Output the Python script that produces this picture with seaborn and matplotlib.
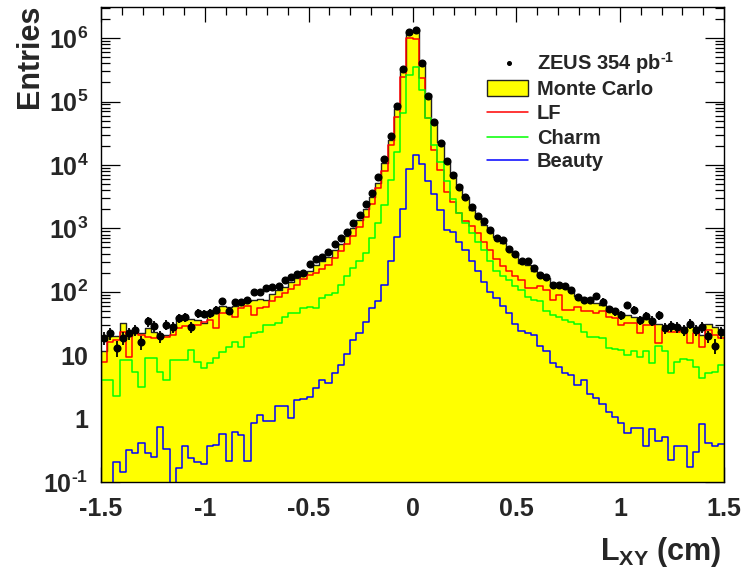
import numpy as np
import pandas as pd
import matplotlib
matplotlib.use("Agg")
import matplotlib.pyplot as plt
from matplotlib.lines import Line2D
from matplotlib.patches import Rectangle
from matplotlib.ticker import MultipleLocator, LogLocator, NullFormatter
import seaborn as sns

# 100 bins of 0.03 cm between -1.5 and 1.5 cm
bin_edges = [round(-1.5 + 0.03 * i, 2) for i in range(101)]

data_counts = [
    19, 22, 13, 19, 22, 25, 16, 34, 29, 20,
    30, 28, 38, 40, 28, 46, 45, 46, 52, 72,
    50, 68, 68, 74, 98, 98, 115, 120, 123, 151,
    174, 191, 200, 275, 324, 355, 417, 562, 708, 891,
    1202, 1622, 2399, 3673, 6457, 12590, 28840, 85110, 323600, 1230000,
    1349000, 407400, 120200, 46770, 21880, 11480, 6918, 4571, 3162, 2138,
    1549, 1288, 933, 708, 646, 468, 398, 309, 302, 234,
    186, 170, 126, 126, 124, 107, 84, 73, 75, 86,
    70, 53, 49, 43, 62, 52, 36, 42, 35, 43,
    27, 29, 28, 25, 31, 25, 28, 20, 14, 23,
]

mc_total = [
    11.5, 20.0, 20.0, 32.4, 20.0, 23.4, 22.4, 26.9, 23.4, 20.9,
    20.9, 30.2, 39.8, 39.8, 37.2, 36.3, 32.4, 43.7, 45.7, 58.9,
    57.5, 60.3, 67.6, 70.8, 74.1, 75.9, 74.1, 93.3, 107, 117,
    145, 162, 191, 214, 263, 302, 355, 457, 575, 759,
    1000, 1380, 1995, 3090, 5248, 10720, 25120, 75860, 302000, 1259000,
    1349000, 380200, 131800, 47860, 23440, 11220, 7413, 4898, 3162, 1950,
    1445, 1148, 891, 724, 589, 457, 380, 282, 263, 209,
    186, 162, 138, 129, 120, 105, 87.1, 79.4, 75.9, 66.1,
    61.7, 57.5, 51.3, 45.7, 43.7, 40.7, 37.2, 38.0, 33.9, 30.9,
    28.8, 30.9, 28.8, 28.2, 30.9, 28.2, 20.9, 30.9, 27.5, 25.1,
]

lf = [
    7.9, 16.4, 17.4, 23.4, 9.5, 22.4, 20.9, 19.5, 18.6, 19.5,
    19.5, 20.9, 26.9, 28.8, 28.8, 30.2, 33.1, 35.5, 26.9, 45.7,
    45.7, 40.7, 55.0, 60.3, 43.7, 55.0, 57.5, 72.4, 84.1, 95.5,
    110, 129, 158, 182, 200, 229, 269, 347, 437, 575,
    759, 1047, 1514, 2455, 4266, 8072, 20420, 56230, 239900, 1000000,
    977200, 234400, 54950, 17380, 8318, 3802, 2630, 1738, 1318, 1096,
    832, 603, 457, 324, 251, 214, 178, 155, 115, 115,
    123, 107, 74.1, 89.1, 51.9, 51.9, 58.5, 50.6, 50.6, 45.9,
    50.6, 40.7, 38.3, 30.1, 31.9, 31.9, 22.2, 30.1, 30.1, 15.5,
    25.1, 23.6, 23.6, 25.1, 15.8, 22.2, 13.7, 25.1, 20.9, 18.5,
]

charm = [
    4.1, 4.1, 2.24, 8.4, 8.4, 5.5, 3.2, 9.0, 9.0, 5.5,
    4.1, 8.4, 8.4, 8.4, 12.1, 7.9, 6.2, 7.5, 9.0, 11.4,
    13.7, 16.4, 13.7, 19.7, 22.2, 23.6, 30.1, 30.1, 31.9, 40.6,
    45.9, 45.9, 55.1, 58.5, 55.0, 79.4, 89.1, 95.5, 129, 178,
    234, 302, 407, 708, 1202, 2344, 5754, 16220, 66070, 263000,
    354800, 151400, 54950, 20890, 11220, 5495, 2884, 1778, 1230, 832,
    617, 457, 302, 209, 178, 155, 123, 107, 83.2, 74.1,
    70.8, 49.0, 43.7, 40.7, 36.3, 33.9, 30.9, 23.4, 19.5, 19.5,
    18.6, 12.9, 12.3, 12.0, 10.0, 11.5, 9.3, 11.5, 7.4, 13.8,
    11.5, 5.2, 7.9, 8.7, 8.5, 6.6, 4.4, 5.2, 5.5, 7.1,
]

beauty = [
    0.0, 0.0, 0.204, 0.146, 0.316, 0.284, 0.409, 0.284, 0.246, 0.750,
    0.331, 0.0, 0.166, 0.372, 0.237, 0.210, 0.191, 0.372, 0.385, 0.575,
    0.215, 0.625, 0.555, 0.215, 0.847, 1.12, 0.933, 0.90, 1.59, 1.59,
    1.01, 1.98, 2.02, 2.23, 3.01, 4.07, 3.70, 5.20, 7.03, 10.5,
    17.4, 22.4, 33.9, 55.0, 70.8, 129, 302, 741, 1995, 8511,
    14450, 10230, 5495, 3548, 1950, 955, 891, 617, 457, 302,
    209, 145, 100, 79.4, 58.9, 45.7, 31.6, 24.5, 22.4, 20.9,
    13.8, 11.5, 7.4, 6.6, 5.2, 4.9, 3.39, 4.07, 2.45, 2.14,
    1.70, 1.25, 1.05, 0.867, 0.603, 0.708, 0.708, 0.363, 0.676, 0.437,
    0.513, 0.224, 0.372, 0.372, 0.170, 0.302, 0.813, 0.407, 0.363, 0.398,
]

x_tick_values = [-1.5, -1.0, -0.5, 0.0, 0.5, 1.0, 1.5]
x_tick_labels = ["-1.5", "-1", "-0.5", "0", "0.5", "1", "1.5"]
y_tick_values = [1e-1, 1, 10, 1e2, 1e3, 1e4, 1e5, 1e6]
y_tick_labels = [r"10$^{\text{-}1}$", "1", "10", "10$^{2}$", "10$^{3}$",
                 "10$^{4}$", "10$^{5}$", "10$^{6}$"]

legend_labels = [r"ZEUS 354 pb$^{\text{-}1}$", "Monte Carlo", "LF", "Charm", "Beauty"]

YELLOW = "#ffff00"
RED = "#ff0000"
GREEN = "#00ff00"
BLUE = "#0000ff"
OUTLINE = "#222222"

sns.set_style("ticks")
plt.rcParams["font.family"] = ["Liberation Sans", "DejaVu Sans"]
plt.rcParams["font.weight"] = "bold"
plt.rcParams["mathtext.fontset"] = "custom"
plt.rcParams["mathtext.rm"] = "Liberation Sans:bold"
plt.rcParams["mathtext.bf"] = "Liberation Sans:bold"
plt.rcParams["mathtext.it"] = "Liberation Sans:bold"
plt.rcParams["mathtext.default"] = "rm"

centers = [0.5 * (a + b) for a, b in zip(bin_edges[:-1], bin_edges[1:])]
df = pd.DataFrame({
    "lxy": centers,
    "mc": mc_total,
    "lf": lf,
    "charm": charm,
    "beauty": beauty,
    "data": data_counts,
})

W, H = 741, 569
fig = plt.figure(figsize=(W / 100, H / 100), dpi=100)
ax = fig.add_axes([101 / W, 1 - 482 / H, 623 / W, 475 / H])

# Monte Carlo sum: filled yellow histogram with a dark outline
sns.histplot(data=df, x="lxy", weights="mc", bins=bin_edges, element="step",
             fill=True, color=YELLOW, alpha=1.0, edgecolor=OUTLINE,
             linewidth=1.0, ax=ax, zorder=1)

# flavour components as open step histograms
for col, colour in [("lf", RED), ("charm", GREEN), ("beauty", BLUE)]:
    sns.histplot(data=df, x="lxy", weights=col, bins=bin_edges, element="step",
                 fill=False, color=colour, linewidth=1.1, ax=ax, zorder=2)

# data points with Poisson error bars
ax.errorbar(df["lxy"], df["data"], yerr=np.sqrt(df["data"]), fmt="o",
            color="black", ms=4.8, elinewidth=1.3, capsize=0, zorder=5)

ax.set_yscale("log")
ax.set_xlim(-1.5, 1.5)
ax.set_ylim(0.1, 3.1e6)
ax.set_xlabel("")
ax.set_ylabel("")

ax.set_xticks(x_tick_values)
ax.set_xticklabels(x_tick_labels)
ax.xaxis.set_minor_locator(MultipleLocator(0.1))
ax.set_yticks(y_tick_values)
ax.set_yticklabels(y_tick_labels)
ax.yaxis.set_minor_locator(LogLocator(base=10, subs=np.arange(2, 10), numticks=30))
ax.yaxis.set_minor_formatter(NullFormatter())

ax.tick_params(axis="both", which="both", direction="in", top=True, right=True,
               width=0.9, color="black", labelsize=18)
ax.tick_params(axis="x", which="major", length=11, pad=11)
ax.tick_params(axis="x", which="minor", length=5.5)
ax.tick_params(axis="y", which="major", length=13.5, pad=9)
ax.tick_params(axis="y", which="minor", length=6.7)
for lbl in ax.get_xticklabels() + ax.get_yticklabels():
    lbl.set_fontweight("bold")
for sp in ax.spines.values():
    sp.set_color("black")
    sp.set_linewidth(1.0)
    sp.set_zorder(10)

ax.text(-0.114, 1.004, "Entries", rotation=90, ha="center", va="top",
        transform=ax.transAxes, fontsize=22, fontweight="bold")
fig.text(722 / W, 0.0005, "L$_{XY}$ (cm)", ha="right", va="bottom",
         fontsize=22, fontweight="bold")

# legend block in the upper right, laid out row by row in pixel units
def fx(px):
    return px / W


def fy(py):
    return 1 - py / H


row_mid = [63, 87.5, 112, 136.5, 160]
key_x0, key_x1, text_x = 487, 528, 537
for i, label in enumerate(legend_labels):
    fig.text(fx(text_x), fy(row_mid[i] + 7.2), label, ha="left", va="baseline",
             fontsize=14.5, fontweight="bold")
fig.add_artist(Line2D([fx(508.5)], [fy(row_mid[0])], marker="o", ls="none",
                      color="black", ms=2.6, transform=fig.transFigure))
fig.add_artist(Rectangle((fx(key_x0), fy(96)), fx(key_x1) - fx(key_x0),
                         fy(79.5) - fy(96), facecolor=YELLOW, edgecolor=OUTLINE,
                         linewidth=1.0, transform=fig.transFigure))
for row, colour in zip(row_mid[2:], [RED, GREEN, BLUE]):
    fig.add_artist(Line2D([fx(key_x0), fx(key_x1)], [fy(row), fy(row)],
                          color=colour, lw=1.1, transform=fig.transFigure))

fig.savefig("out.png", dpi=100, facecolor="white")
